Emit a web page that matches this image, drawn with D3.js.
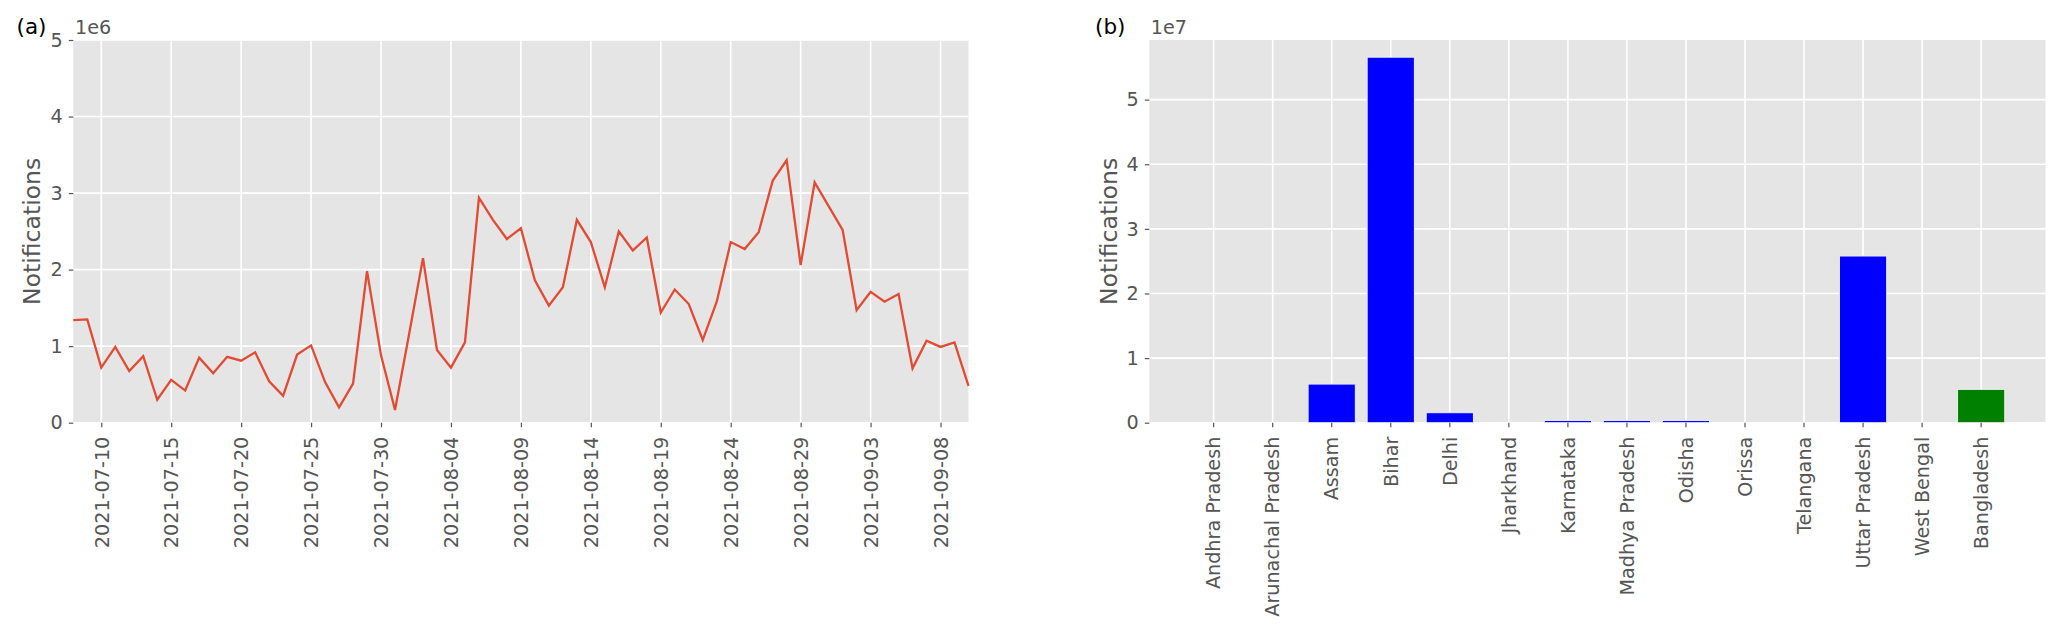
<!DOCTYPE html>
<html>
<head>
<meta charset="utf-8">
<script src="https://cdn.jsdelivr.net/npm/d3@7"></script>
<style>
body { margin: 0; background: #fff; }
svg { display: block; }
text { font-family: "DejaVu Sans", sans-serif; }
</style>
</head>
<body>
<svg id="chart" width="2067" height="642"></svg>
<script>
// ---------- DATA ----------
const startDate = "2021-07-08";
const dailyNotifications = [
  1.34, 1.35, 0.72, 0.99, 0.675, 0.87, 0.30, 0.56, 0.42, 0.85,
  0.645, 0.86, 0.81, 0.92, 0.54, 0.35, 0.89, 1.01, 0.53, 0.20,
  0.51, 1.98, 0.88, 0.165, 1.15, 2.15, 0.95, 0.72, 1.05, 2.94,
  2.65, 2.40, 2.54, 1.86, 1.53, 1.77, 2.65, 2.36, 1.77, 2.50,
  2.25, 2.42, 1.44, 1.74, 1.55, 1.08, 1.58, 2.36, 2.27, 2.49,
  3.16, 3.43, 2.06, 3.14, 2.83, 2.52, 1.47, 1.71, 1.58, 1.68,
  0.71, 1.07, 0.99, 1.05, 0.48
].map(v => v * 1e6);
const dateTickLabels = ["2021-07-10","2021-07-15","2021-07-20","2021-07-25","2021-07-30",
  "2021-08-04","2021-08-09","2021-08-14","2021-08-19","2021-08-24","2021-08-29",
  "2021-09-03","2021-09-08"];
const lineYTicks = [0, 1, 2, 3, 4, 5];

const regions = ["Andhra Pradesh","Arunachal Pradesh","Assam","Bihar","Delhi","Jharkhand",
  "Karnataka","Madhya Pradesh","Odisha","Orissa","Telangana","Uttar Pradesh","West Bengal","Bangladesh"];
const regionValues = [0, 0, 0.598, 5.657, 0.155, 0, 0.035, 0.035, 0.035, 0, 0, 2.58, 0, 0.516].map(v => v * 1e7);
const regionColors = ["blue","blue","blue","blue","blue","blue","blue","blue","blue","blue","blue","blue","blue","green"];
const barYTicks = [0, 1, 2, 3, 4, 5];

// ---------- STYLE ----------
const BG = "#E5E5E5", GRID = "#FFFFFF", TXT = "#555555";
const tickFont = 19.2, labelFont = 23.5;
const svg = d3.select("#chart");

// ---------- PANEL A ----------
const A = { x0: 73.3, x1: 968.5, y0: 40, y1: 422.7 };
const parse = d3.utcParse("%Y-%m-%d");
const t0 = parse(startDate);
const dates = dailyNotifications.map((_, i) => d3.utcDay.offset(t0, i));
const xA = d3.scaleUtc().domain(d3.extent(dates)).range([A.x0, A.x1]);
const yA = d3.scaleLinear().domain([0, 5e6]).range([A.y1, A.y0]);
const tickDates = dateTickLabels.map(parse);

const gA = svg.append("g");
gA.append("rect").attr("x", A.x0).attr("y", A.y0).attr("width", A.x1 - A.x0).attr("height", A.y1 - A.y0).attr("fill", BG);
gA.append("g").selectAll("line").data(tickDates).join("line")
  .attr("x1", d => xA(d)).attr("x2", d => xA(d)).attr("y1", A.y0).attr("y2", A.y1)
  .attr("stroke", GRID).attr("stroke-width", 1.6);
gA.append("g").selectAll("line").data(lineYTicks).join("line")
  .attr("x1", A.x0).attr("x2", A.x1).attr("y1", d => yA(d * 1e6)).attr("y2", d => yA(d * 1e6))
  .attr("stroke", GRID).attr("stroke-width", 1.6);

const line = d3.line().x((d, i) => xA(dates[i])).y(d => yA(d));
gA.append("path").datum(dailyNotifications).attr("d", line)
  .attr("fill", "none").attr("stroke", "#E24A33").attr("stroke-width", 2.3).attr("stroke-linejoin", "miter");

// y axis A
gA.append("g").attr("transform", `translate(${A.x0},0)`)
  .call(d3.axisLeft(yA).tickValues(lineYTicks.map(d => d * 1e6)).tickFormat((d, i) => String(lineYTicks[i])).tickSize(4.5).tickPadding(6));
// x axis A
const xAxA = gA.append("g").attr("transform", `translate(0,${A.y1})`)
  .call(d3.axisBottom(xA).tickValues(tickDates).tickFormat((d, i) => dateTickLabels[i]).tickSize(4.5).tickPadding(6));
xAxA.selectAll("text").attr("transform", "rotate(-90)").attr("text-anchor", "end")
  .attr("x", -14).attr("y", 0).attr("dy", "0.35em");

gA.append("text").attr("x", 75).attr("y", 34).attr("font-size", tickFont).attr("fill", TXT).text("1e6");
gA.append("text").attr("x", 16.5).attr("y", 34).attr("font-size", 21.5).attr("fill", "#000").text("(a)");
gA.append("text").attr("transform", `translate(39.5,${(A.y0 + A.y1) / 2}) rotate(-90)`)
  .attr("text-anchor", "middle").attr("font-size", labelFont).attr("fill", TXT).text("Notifications");

// ---------- PANEL B ----------
const B = { x0: 1149.3, x1: 2045.5, y0: 40, y1: 422.7 };
const xB = d3.scaleBand().domain(regions).range([B.x0, B.x1]).paddingInner(0.2).paddingOuter(0.69);
const yB = d3.scaleLinear().domain([0, d3.max(regionValues) * 1.047]).range([B.y1, B.y0]);

const gB = svg.append("g");
gB.append("rect").attr("x", B.x0).attr("y", B.y0).attr("width", B.x1 - B.x0).attr("height", B.y1 - B.y0).attr("fill", BG);
gB.append("g").selectAll("line").data(regions).join("line")
  .attr("x1", d => xB(d) + xB.bandwidth() / 2).attr("x2", d => xB(d) + xB.bandwidth() / 2)
  .attr("y1", B.y0).attr("y2", B.y1).attr("stroke", GRID).attr("stroke-width", 1.6);
gB.append("g").selectAll("line").data(barYTicks).join("line")
  .attr("x1", B.x0).attr("x2", B.x1).attr("y1", d => yB(d * 1e7)).attr("y2", d => yB(d * 1e7))
  .attr("stroke", GRID).attr("stroke-width", 1.6);

const barData = regions.map((r, i) => ({ r, v: regionValues[i], c: regionColors[i] })).filter(d => d.v > 0);
gB.append("g").selectAll("rect").data(barData).join("rect")
  .attr("x", d => xB(d.r)).attr("width", xB.bandwidth())
  .attr("y", d => yB(d.v)).attr("height", d => yB(0) - yB(d.v))
  .attr("fill", d => d.c).attr("stroke", "#EEEEEE").attr("stroke-width", 1);

gB.append("g").attr("transform", `translate(${B.x0},0)`)
  .call(d3.axisLeft(yB).tickValues(barYTicks.map(d => d * 1e7)).tickFormat((d, i) => String(barYTicks[i])).tickSize(4.5).tickPadding(6));
const xAxB = gB.append("g").attr("transform", `translate(0,${B.y1})`)
  .call(d3.axisBottom(xB).tickSize(4.5).tickPadding(6));
xAxB.selectAll("text").attr("transform", "rotate(-90)").attr("text-anchor", "end")
  .attr("x", -14).attr("y", 0).attr("dy", "0.35em");

gB.append("text").attr("x", 1150.7).attr("y", 34).attr("font-size", tickFont).attr("fill", TXT).text("1e7");
gB.append("text").attr("x", 1095).attr("y", 34).attr("font-size", 21.5).attr("fill", "#000").text("(b)");
gB.append("text").attr("transform", `translate(1117,${(B.y0 + B.y1) / 2}) rotate(-90)`)
  .attr("text-anchor", "middle").attr("font-size", labelFont).attr("fill", TXT).text("Notifications");

// axis styling
svg.selectAll(".domain").remove();
svg.selectAll(".tick line").attr("stroke", TXT).attr("stroke-width", 1.2);
svg.selectAll(".tick text").attr("font-size", tickFont).attr("fill", TXT).attr("font-family", "DejaVu Sans, sans-serif");
</script>
</body>
</html>
